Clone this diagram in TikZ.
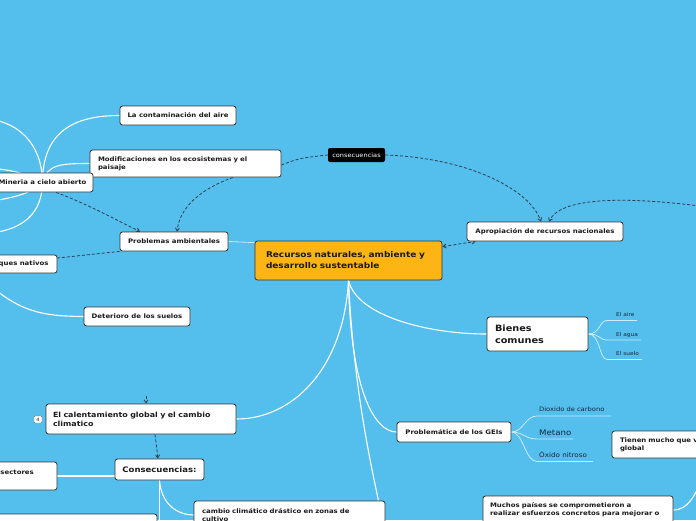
\documentclass[tikz,border=0pt]{standalone}
\usepackage{fontspec}
\setmainfont[FakeStretch=1.12]{DejaVu Sans}
\usetikzlibrary{arrows.meta}
\definecolor{bgc}{RGB}{84,190,236}
\definecolor{orangec}{RGB}{252,181,20}
\definecolor{dashc}{RGB}{45,62,80}
\definecolor{edgec}{RGB}{51,51,51}
\definecolor{txtc}{RGB}{26,26,26}
\definecolor{softc}{RGB}{205,235,250}
\definecolor{leafc}{RGB}{20,40,60}
\pgfdeclarelayer{back}
\pgfsetlayers{back,main}
\tikzset{
 box/.style={draw=edgec, fill=white, rounded corners=2.5pt, line width=0.8pt, text=txtc, inner sep=0pt, align=left, font=\bfseries\fontsize{6.2}{8}\selectfont},
 tagbox/.style={fill=black, rounded corners=2pt, text=white, inner sep=0pt, font=\fontsize{5.9}{7}\selectfont, minimum width=57pt, minimum height=14pt},
 leaf/.style={text=leafc, inner sep=0pt, anchor=base west},
 wire/.style={draw=white, line width=1.1pt},
 softwire/.style={draw=softc, line width=0.8pt},
 dlink/.style={draw=dashc, line width=0.8pt, dash pattern=on 3pt off 2pt},
 arr/.style={-{Straight Barb[length=3pt,width=4pt]}},
 arrs/.style={{Straight Barb[length=3pt,width=4pt]}-{Straight Barb[length=3pt,width=4pt]}},
}
\begin{document}
\begin{tikzpicture}[x=1pt,y=-1pt]
\useasboundingbox (0,0) rectangle (696,520);
\begin{scope}
\clip (0,0) rectangle (696,520);
% central
\node[box, fill=orangec, font=\bfseries\fontsize{8}{11}\selectfont, minimum width=187pt, minimum height=39pt, text width=165pt] (central) at (348.5,260.5) {Recursos naturales, ambiente y\\desarrollo sustentable};
% left cluster
\node[box, minimum width=116pt, minimum height=19pt] (aire) at (178,115.5) {La contaminación del aire};
\node[box, minimum width=191pt, minimum height=27pt, text width=175pt] (modif) at (185.5,163.5) {Modificaciones en los ecosistemas y el\\paisaje};
\node[box, minimum width=101pt, minimum height=19pt] (mineria) at (42.5,182.5) {Mineria a cielo abierto};
\node[box, minimum width=108pt, minimum height=19pt] (problemas) at (174,241.5) {Problemas ambientales};
\node[box, minimum width=81pt, minimum height=18pt] (bosques) at (16.5,264) {Bosques nativos};
\node[box, minimum width=106pt, minimum height=19pt] (deterioro) at (137,316.5) {Deterioro de los suelos};
\node[tagbox] (consec) at (356.5,155) {consecuencias};
\node[box, minimum width=156pt, minimum height=19pt] (aprop) at (545,231.5) {Apropiación de recursos nacionales};
% bienes comunes
\node[box, font=\bfseries\fontsize{8.7}{11.5}\selectfont, minimum width=101pt, minimum height=34pt, text width=85pt] (bienes) at (537.5,334) {Bienes\\comunes};
\node[leaf, font=\fontsize{5.2}{6}\selectfont] (elaire) at (616,316.5) {El aire};
\node[leaf, font=\fontsize{5.2}{6}\selectfont] (elagua) at (616,336) {El agua};
\node[leaf, font=\fontsize{5.2}{6}\selectfont] (elsuelo) at (616,355) {El suelo};
\coordinate (aireA) at (607,320.5); \coordinate (aireB) at (637,320.5);
\coordinate (aguaA) at (607,340); \coordinate (aguaB) at (641,340);
\coordinate (sueloA) at (607,359.5); \coordinate (sueloB) at (642,359.5);
% calentamiento
\node[box, font=\bfseries\fontsize{7.1}{9}\selectfont, minimum width=190pt, minimum height=30pt, text width=176pt] (calent) at (141,419) {El calentamiento global y el cambio\\climatico};
\node[draw=edgec!70, fill=white, rounded corners=1pt, line width=0.4pt, minimum width=8pt, minimum height=7pt, inner sep=0pt, font=\fontsize{4.5}{4.5}\selectfont, text=txtc] (badge) at (38,419.5) {4};
\node[box, font=\bfseries\fontsize{7.6}{9}\selectfont, minimum width=89pt, minimum height=21pt] (consectwo) at (159.5,469.5) {Consecuencias:};
\node[box, minimum width=81pt, minimum height=28pt, text width=32pt] (sectores) at (16.5,476) {sectores\\\mbox{}};
\node[box, minimum width=200pt, minimum height=32pt] (bottombox) at (57,530) {};
\node[box, minimum width=191pt, minimum height=28pt, text width=175pt] (cambio) at (289.5,515) {cambio climático drástico en zonas de\\cultivo};
% GEIs
\node[box, minimum width=114pt, minimum height=20pt] (geis) at (454,432) {Problemática de los GEIs};
\node[leaf, font=\fontsize{6}{7}\selectfont] (dioxido) at (539,411.5) {Dioxido de carbono};
\node[leaf, font=\fontsize{7.7}{9}\selectfont] (metano) at (539,435) {Metano};
\node[leaf, font=\fontsize{6.4}{8}\selectfont] (oxido) at (539,457) {Óxido nitroso};
\coordinate (dioA) at (537,416); \coordinate (dioB) at (611,416);
\coordinate (metA) at (537,439); \coordinate (metB) at (573,439);
\coordinate (oxiA) at (537,461.5); \coordinate (oxiB) at (593,461.5);
\node[box, minimum width=216pt, minimum height=27pt, text width=200pt] (tienen) at (720,444.5) {Tienen mucho que ver con el calentamiento\\global};
\node[box, minimum width=190pt, minimum height=28pt, text width=176pt] (muchos) at (578,510) {Muchos países se comprometieron a\\realizar esfuerzos concretos para mejorar o};
% free ends
\coordinate (offA) at (-20,118);
\coordinate (offB) at (-20,168);
\coordinate (offC) at (-20,202);
\coordinate (offD) at (-20,234);
\coordinate (offE) at (-15,280);
\coordinate (offR) at (700,206);
\coordinate (stubtop) at (146,396);
\coordinate (downC) at (159.5,540);
\coordinate (offM) at (700,484);
\end{scope}
\begin{pgfonlayer}{back}
\begin{scope}
\clip (0,0) rectangle (696,520);
\fill[bgc] (0,0) rectangle (696,520);
% central wires
\draw[wire] (central.south) .. controls +(8,35) and +(-60,0) .. (bienes.west);
\draw[wire] (central.south) .. controls +(2,110) and +(-22,0) .. (geis.west);
\draw[wire] (central.south) .. controls +(-5,90) and +(55,0) .. (calent.east);
\draw[wire] (central.south) .. controls +(5,110) and +(-6,-30) .. ([xshift=-7pt]cambio.north east);
\draw[softwire] (problemas.east) -- ([yshift=-2pt]central.north west);
% mineria fan
\draw[wire] (mineria.center) .. controls +(0,-55) and +(-40,0) .. (aire.west);
\draw[wire] (mineria.center) .. controls +(5,-18) and +(-30,0) .. (modif.west);
\draw[wire] (offA) .. controls (20,120) and (42,145) .. (mineria.center);
\draw[wire] (offB) .. controls (10,168) and (30,175) .. (mineria.center);
\draw[wire] (offC) .. controls (10,200) and (35,192) .. (mineria.center);
\draw[wire] (offD) .. controls (25,232) and (42,212) .. (mineria.center);
\draw[wire] (offE) .. controls (20,315) and (50,316) .. (deterioro.west);
% bienes children
\draw[softwire] (bienes.east) .. controls +(12,0) and +(-8,0) .. (aireA) -- (aireB);
\draw[softwire] (bienes.east) .. controls +(12,0) and +(-8,0) .. (aguaA) -- (aguaB);
\draw[softwire] (bienes.east) .. controls +(12,0) and +(-8,0) .. (sueloA) -- (sueloB);
% GEIs children
\draw[softwire] (geis.east) .. controls +(12,0) and +(-12,0) .. (dioA) -- (dioB);
\draw[softwire] (geis.east) .. controls +(12,0) and +(-12,0) .. (metA) -- (metB);
\draw[softwire] (geis.east) .. controls +(12,0) and +(-12,0) .. (oxiA) -- (oxiB);
% consecuencias wires
\draw[wire] ([yshift=-6.5pt]consectwo.west) -- (sectores.east);
\draw[wire] (consectwo.south) -- (downC);
\draw[wire] (consectwo.south) .. controls +(2,25) and +(-15,0) .. (cambio.west);
\draw[wire] (muchos.east) .. controls +(15,0) and +(-5,10) .. (offM);
% dashed links
\draw[dlink, arr] ([xshift=13.5pt]mineria.south) .. controls (90,205) and (120,222) .. ([xshift=-34pt]problemas.north);
\draw[dlink, arr] ([xshift=47.5pt]modif.south) .. controls +(-28,10) and +(3,-27) .. ([xshift=3pt]problemas.north);
\draw[dlink] ([yshift=-1.5pt]modif.east) .. controls (300,158) .. (consec.west);
\draw[dlink, arr] (consec.east) .. controls (470,158) and (530,190) .. ([xshift=-4pt]aprop.north);
\draw[dlink, arr] (offR) .. controls (620,196) and (560,198) .. ([xshift=4pt]aprop.north);
\draw[dlink, arrs] ([yshift=-6pt]central.north east) -- ([xshift=9pt]aprop.south west);
\draw[dlink] (problemas.south west) -- ([yshift=6pt]bosques.east);
\draw[dlink, arr] (stubtop) -- ([xshift=5pt]calent.north);
\draw[dlink, arr] ([xshift=14pt]calent.south) -- ([xshift=-1.5pt]consectwo.north);
\end{scope}
\end{pgfonlayer}
\end{tikzpicture}
\end{document}
